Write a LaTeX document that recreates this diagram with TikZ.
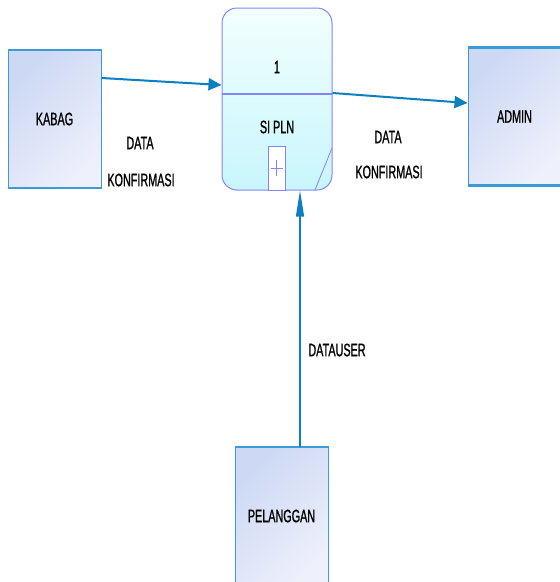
\documentclass[tikz,border=0pt]{standalone}
\usepackage{fontspec}
\setmainfont{Liberation Sans}[FakeStretch=0.6,FakeBold=1]
\usetikzlibrary{arrows.meta}

\definecolor{entline}{HTML}{3C9AD6}
\definecolor{entlight}{HTML}{EEF0FB}
\definecolor{entdark}{HTML}{CCD8F4}
\definecolor{procline}{HTML}{8484FF}
\definecolor{proctop}{HTML}{F2FFFF}
\definecolor{procbot}{HTML}{C8F6FC}
\definecolor{flowcol}{HTML}{0B80C0}

\begin{document}
\begin{tikzpicture}[x=1pt,y=-1pt,font=\fontsize{18}{20}\selectfont]

	\tikzstyle{entity} = [draw=entline,line width=1pt,minimum width=93pt,minimum height=137pt,
		left color=entdark,right color=entlight,shading angle=45]
	\tikzstyle{edge} = [draw=entline,line width=2.5pt]
	\tikzstyle{flow} = [draw=flowcol,line width=2pt,-{Triangle[length=13pt,width=12pt]}]
	\tikzstyle{lbl} = [inner sep=0pt,anchor=center]

	\useasboundingbox (0,0) rectangle (560,582);

%	entities
	\node [entity] (kabag) at (54.5,119) {KABAG};
	\node [entity] (admin) at (514.5,116.5) {ADMIN};
	\node [entity] (pel) at (281.5,516) {PELANGGAN};
	\foreach \e in {kabag,admin,pel} {
		\draw[edge] (\e.north west) -- (\e.north east);
		\draw[edge] (\e.south west) -- (\e.south east);
	}

%	process
	\node [draw=procline,line width=1pt,rounded corners=15pt,minimum width=110pt,minimum height=182pt,
		top color=proctop,bottom color=procbot] (proc) at (277,99) {};
	\draw[procline,line width=1.2pt] (222,94) -- (332,94);
	\node [lbl] (pnum) at (277,67) {1};
	\node [lbl] (pname) at (277,127) {SI PLN};
	\draw[procline,line width=1pt,fill=white] (268,190) rectangle (285,146);
	\draw[procline,line width=0.8pt] (276.5,160) -- (276.5,176) (270.5,168) -- (282.5,168);
	\draw[procline,line width=0.8pt] (332,148) -- (315,190);

%	flows
	\draw[flow] ([yshift=41pt]kabag.east) -- ([yshift=14pt]proc.west);
	\draw[flow] ([yshift=6pt]proc.east) -- ([yshift=13.5pt]admin.west);
	\draw[flow,line width=1.3pt,-{Triangle[length=26pt,width=8pt]}] ([xshift=18.5pt]pel.north) -- ([xshift=23pt]proc.south);

	\node [lbl] (l1a) at (140,143) {DATA};
	\node [lbl] (l1b) at (141,180) {KONFIRMASI};
	\node [lbl] (l2a) at (388,137) {DATA};
	\node [lbl] (l2b) at (389,172) {KONFIRMASI};
	\node [lbl] (l3) at (337,350) {DATAUSER};

\end{tikzpicture}
\end{document}
